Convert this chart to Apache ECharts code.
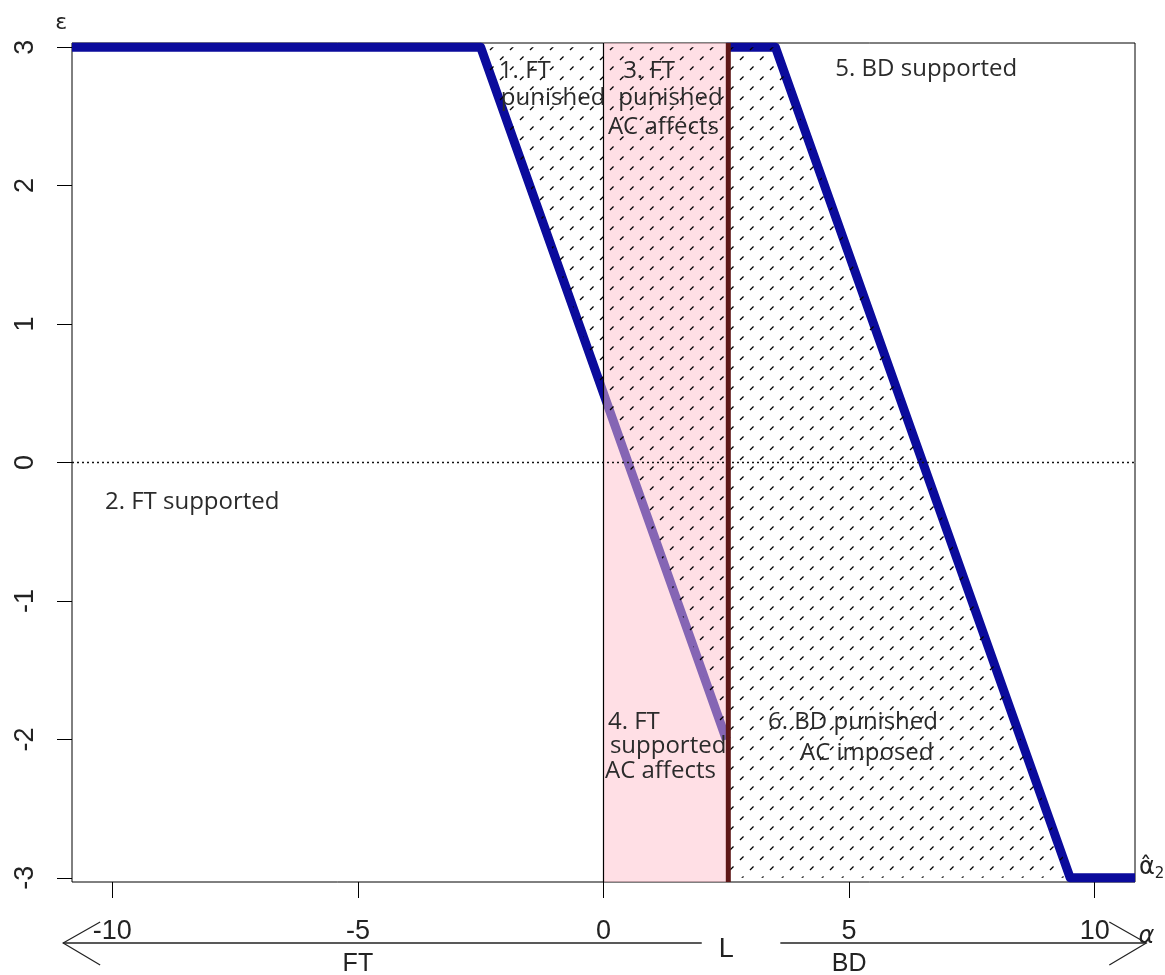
<!DOCTYPE html>
<html><head><meta charset="utf-8">
<script src="https://cdn.jsdelivr.net/npm/echarts@6/dist/echarts.min.js"></script>
<style>html,body{margin:0;padding:0;background:#fff}#c{width:1165px;height:975px}</style>
</head><body><div id="c"></div>
<script>
// ---- data ----
const xRange = [-10.82, 10.82];
const yRange = [-3.03, 3.03];
const xTicks = [-10, -5, 0, 5, 10];
const yTicks = [-3, -2, -1, 0, 1, 2, 3];
const L = 2.5;
const boundaryFT = [[-10.82, 3], [-2.5, 3], [2.5, -2]];
const boundaryBD = [[2.5, 3], [3.5, 3], [9.5, -3], [10.82, -3]];
const hatchRegion = [[-2.5, 3], [3.5, 3], [9.5, -3], [2.5, -3], [2.5, -2]];
const acBand = [0, 2.5];
const noteText = ['1. FT', 'punished', '3. FT', 'punished', 'AC affects', '5. BD supported',
  '2. FT supported', '4. FT', 'supported', 'AC affects', '6. BD punished', 'AC imposed'];
const noteX = [-2.13, -2.09, 0.40, 0.30, 0.09, 4.72, -10.15, 0.09, 0.13, 0.03, 3.35, 4.0];
const noteY = [2.83, 2.63, 2.83, 2.63, 2.42, 2.84, -0.285, -1.875, -2.05, -2.23, -1.875, -2.10];
const arrowFT = [2.0, -11.0];
const arrowBD = [3.6, 11.05];
const sideText = ['FT', 'BD', 'L', 'α'];
const sideX = [-5, 5, 2.5, 11.05];

// ---- styles ----
const AX_FONT = 'Liberation Sans';
const NOTE_FONT = '"Open Sans"';

function makeHatch() {
  const s = 20, c = document.createElement('canvas');
  c.width = s; c.height = s;
  const g = c.getContext('2d');
  g.strokeStyle = '#000'; g.lineWidth = 1.3;
  const P = s * Math.SQRT2 / 2;
  g.setLineDash([5, P - 5]);
  for (let k = -1; k <= 1; k++) {
    g.beginPath(); g.moveTo(-2 * s + k * s, 3 * s); g.lineTo(3 * s + k * s, -2 * s); g.stroke();
  }
  return c;
}
const hatchCanvas = makeHatch();

const chart = echarts.init(document.getElementById('c'), null, {renderer: 'canvas'});
const option = {
  backgroundColor: '#fff',
  animation: false,
  grid: {left: 72, right: 30, top: 43, bottom: 93, show: true, borderColor: '#000', borderWidth: 1, backgroundColor: 'transparent'},
  xAxis: {
    type: 'value', min: xRange[0], max: xRange[1],
    axisLine: {show: false, onZero: false}, splitLine: {show: false},
    axisTick: {show: true, length: 16, customValues: xTicks, lineStyle: {color: '#000', width: 1}},
    axisLabel: {customValues: xTicks, margin: 36, fontSize: 27, fontFamily: AX_FONT, color: '#222'}
  },
  yAxis: {
    type: 'value', min: yRange[0], max: yRange[1],
    axisLine: {show: false, onZero: false}, splitLine: {show: false},
    axisTick: {show: true, length: 15, customValues: yTicks, lineStyle: {color: '#000', width: 1}},
    axisLabel: {customValues: yTicks, rotate: 90, margin: 33, fontSize: 27, fontFamily: AX_FONT, color: '#222'}
  },
  series: [
    {type: 'line', data: boundaryFT, symbol: 'none', z: 1, clip: false,
      lineStyle: {width: 9, color: '#0b0b9c', cap: 'butt', join: 'round'}},
    {type: 'line', data: boundaryBD, symbol: 'none', z: 1, clip: false,
      lineStyle: {width: 9, color: '#0b0b9c', cap: 'butt', join: 'round'}},
    {type: 'custom', z: 2, clip: false, data: [[0, 0]],
      renderItem: function (params, api) {
        const a = api.coord([acBand[0], yRange[1]]), b = api.coord([acBand[1], yRange[0]]);
        return {type: 'rect', shape: {x: a[0], y: a[1], width: b[0] - a[0], height: b[1] - a[1]},
          style: {fill: 'rgba(255,192,203,0.5)', stroke: null}};
      }},
    {type: 'custom', z: 3, clip: false, data: [[0, 0]],
      renderItem: function (params, api) {
        const pts = hatchRegion.map(p => api.coord(p));
        return {type: 'polygon', shape: {points: pts},
          style: {fill: {image: hatchCanvas, repeat: 'repeat'}, stroke: null}};
      }},
    {type: 'custom', z: 4, clip: false, data: [[0, 0]],
      renderItem: function (params, api) {
        const t0 = api.coord([0, yRange[1]]), b0 = api.coord([0, yRange[0]]);
        const tl = api.coord([L, yRange[1]]), bl = api.coord([L, yRange[0]]);
        const l0 = api.coord([xRange[0], 0]), r0 = api.coord([xRange[1], 0]);
        return {type: 'group', children: [
          {type: 'line', shape: {x1: l0[0], y1: l0[1], x2: r0[0], y2: r0[1]},
            style: {stroke: '#111', lineWidth: 1.5, lineDash: [2, 3]}},
          {type: 'line', shape: {x1: t0[0], y1: t0[1], x2: b0[0], y2: b0[1]},
            style: {stroke: '#000', lineWidth: 1.2}},
          {type: 'line', shape: {x1: tl[0] + 2, y1: tl[1], x2: bl[0] + 2, y2: bl[1]},
            style: {stroke: '#5e1717', lineWidth: 5}}
        ]};
      }},
    {type: 'custom', z: 5, clip: false,
      data: noteX.map((x, i) => [x, noteY[i]]),
      renderItem: function (params, api) {
        const p = api.coord([api.value(0), api.value(1)]);
        return {type: 'text', x: p[0], y: p[1],
          style: {text: noteText[params.dataIndex], fill: '#2b2b2b', fontSize: 24, fontFamily: NOTE_FONT,
            align: 'left', verticalAlign: 'middle'}};
      }},
    {type: 'custom', z: 5, clip: false, data: [[0, 0]],
      renderItem: function (params, api) {
        const yb = api.coord([0, yRange[0]])[1];
        const yt = api.coord([0, yRange[1]])[1];
        const xr = api.coord([xRange[1], 0])[0];
        const ya = yb + 61;
        const children = [];
        [arrowFT, arrowBD].forEach(function (seg) {
          const x0 = api.coord([seg[0], 0])[0], x1 = api.coord([seg[1], 0])[0];
          const dir = Math.sign(x1 - x0);
          children.push({type: 'line', shape: {x1: x0, y1: ya, x2: x1, y2: ya},
            style: {stroke: '#222', lineWidth: 1.5}});
          children.push({type: 'polyline', shape: {points: [[x1 - dir * 37, ya - 21], [x1, ya], [x1 - dir * 37, ya + 22]]},
            style: {stroke: '#222', fill: null, lineWidth: 1.2}});
        });
        const offs = [82, 82, 68, 55];
        const sizes = [25, 25, 27, 24];
        sideText.forEach(function (t, i) {
          const x = api.coord([sideX[i], 0])[0];
          children.push({type: 'text', x: x, y: yb + offs[i],
            style: {text: t, fill: '#222', fontSize: sizes[i], fontFamily: i === 3 ? 'DejaVu Sans' : AX_FONT,
              fontStyle: i === 3 ? 'italic' : 'normal', align: 'center', verticalAlign: 'middle'}});
        });
        const xe = api.coord([-11.04, 0])[0];
        children.push({type: 'text', x: xe, y: yt - 20,
          style: {text: 'ε', fill: '#222', fontSize: 22, fontFamily: 'DejaVu Sans', align: 'center', verticalAlign: 'middle'}});
        const yh = api.coord([0, -2.93])[1];
        children.push({type: 'text', x: xr + 4, y: yh,
          style: {text: '{a|α\u0302}{b|2}', fill: '#222', align: 'left', verticalAlign: 'middle',
            rich: {a: {fontSize: 24, fontFamily: 'DejaVu Sans', fill: '#222'},
                   b: {fontSize: 15, fontFamily: 'DejaVu Sans', fill: '#222', padding: [12, 0, 0, 0]}}}});
        return {type: 'group', children: children};
      }}
  ]
};
chart.setOption(option);
</script></body></html>
